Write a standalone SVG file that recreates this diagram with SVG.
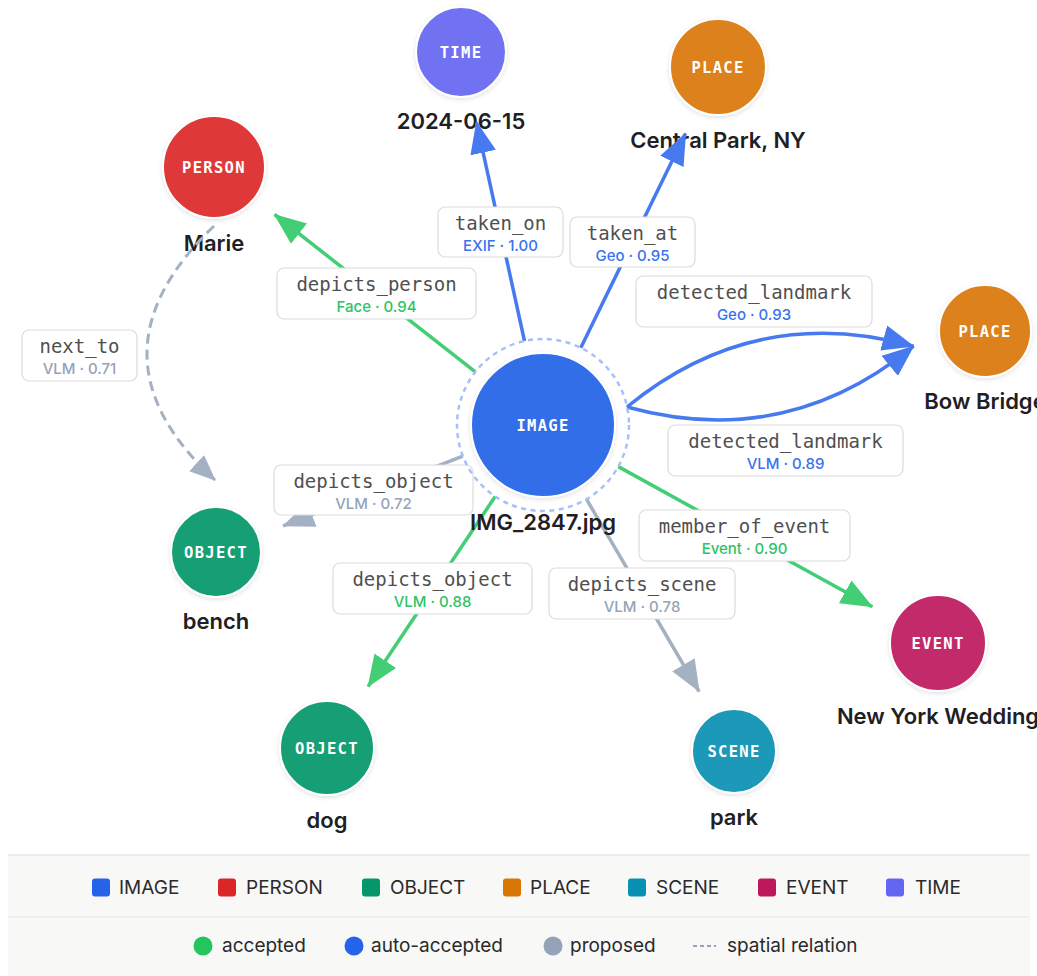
<svg xmlns="http://www.w3.org/2000/svg" width="1037" height="976" viewBox="0 0 1037 976">
<style>
.nt{font-family:"DejaVu Sans Mono","Liberation Mono",monospace;font-weight:bold;font-size:15.5px;fill:#ffffff;letter-spacing:1.3px;text-anchor:middle}
.nn{font-family:Inter,"Liberation Sans",sans-serif;font-weight:600;font-size:22px;fill:#1f2023;text-anchor:middle}
.lb{fill:#ffffff;stroke:#dcdcdc;stroke-width:1.2}
.lt{font-family:"DejaVu Sans Mono","Liberation Mono",monospace;font-size:19px;fill:#505050;text-anchor:middle}
.ls{font-family:Inter,"Liberation Sans",sans-serif;font-weight:500;font-size:15px;text-anchor:middle}
.sb{fill:#3a72ee}.sg{fill:#2fc364}.sp{fill:#94a3b8}
.e{fill:none;stroke-width:3.5}
.eb{stroke:#467aee}.eg{stroke:#43ce76}.ep{stroke:#a4b1c2}
.lg{font-family:Inter,"Liberation Sans",sans-serif;font-size:19px;fill:#2a2a2a}
</style>
<defs>
<filter id="sh" x="-20%" y="-20%" width="140%" height="140%">
<feDropShadow dx="0" dy="1.5" stdDeviation="2" flood-color="#000000" flood-opacity="0.12"/>
</filter>
<marker id="ab" viewBox="0 0 32 26" refX="31" refY="13" markerWidth="32" markerHeight="26" markerUnits="userSpaceOnUse" orient="auto"><path d="M0,0 L32,13 L0,26 z" fill="#467aee"/></marker>
<marker id="ag" viewBox="0 0 32 26" refX="31" refY="13" markerWidth="32" markerHeight="26" markerUnits="userSpaceOnUse" orient="auto"><path d="M0,0 L32,13 L0,26 z" fill="#43ce76"/></marker>
<marker id="ap" viewBox="0 0 32 26" refX="31" refY="13" markerWidth="32" markerHeight="26" markerUnits="userSpaceOnUse" orient="auto"><path d="M0,0 L32,13 L0,26 z" fill="#a4b1c2"/></marker>
<marker id="apd" viewBox="0 0 26 22" refX="25" refY="11" markerWidth="26" markerHeight="22" markerUnits="userSpaceOnUse" orient="auto"><path d="M0,0 L26,11 L0,22 z" fill="#a4b1c2"/></marker>
</defs>
<rect width="1037" height="976" fill="#ffffff"/>

<!-- nodes -->
<g id="node-time">
<circle cx="461" cy="52" r="45" fill="#6f72f2" stroke="#ffffff" stroke-width="2" filter="url(#sh)"/>
<text class="nt" x="461" y="57.5">TIME</text>
<text class="nn" x="461" y="129">2024-06-15</text>
</g>
<g id="node-central-park">
<circle cx="718" cy="67" r="48" fill="#dc811a" stroke="#ffffff" stroke-width="2" filter="url(#sh)"/>
<text class="nt" x="718" y="72.5">PLACE</text>
<text class="nn" x="718" y="148">Central Park, NY</text>
</g>
<g id="node-marie">
<circle cx="214" cy="167" r="51" fill="#de3737" stroke="#ffffff" stroke-width="2" filter="url(#sh)"/>
<text class="nt" x="214" y="172.5">PERSON</text>
<text class="nn" x="214" y="251">Marie</text>
</g>
<g id="node-bow-bridge">
<circle cx="985" cy="331" r="46" fill="#dc811a" stroke="#ffffff" stroke-width="2" filter="url(#sh)"/>
<text class="nt" x="985" y="336.5">PLACE</text>
<text class="nn" x="985" y="409">Bow Bridge</text>
</g>
<g id="node-event">
<circle cx="938" cy="643" r="48" fill="#c32a6a" stroke="#ffffff" stroke-width="2" filter="url(#sh)"/>
<text class="nt" x="938" y="648.5">EVENT</text>
<text class="nn" x="938" y="724">New York Wedding</text>
</g>
<g id="node-scene">
<circle cx="734" cy="751" r="42" fill="#1b99b8" stroke="#ffffff" stroke-width="2" filter="url(#sh)"/>
<text class="nt" x="734" y="756.5">SCENE</text>
<text class="nn" x="734" y="825">park</text>
</g>
<g id="node-dog">
<circle cx="327" cy="748" r="47" fill="#199e75" stroke="#ffffff" stroke-width="2" filter="url(#sh)"/>
<text class="nt" x="327" y="753.5">OBJECT</text>
<text class="nn" x="327" y="828">dog</text>
</g>
<g id="node-bench">
<circle cx="216" cy="552" r="45" fill="#199e75" stroke="#ffffff" stroke-width="2" filter="url(#sh)"/>
<text class="nt" x="216" y="557.5">OBJECT</text>
<text class="nn" x="216" y="629">bench</text>
</g>

<!-- connectors -->
<g id="connectors">
<path class="e eb" d="M524.5,341 L476.5,122.3" marker-end="url(#ab)"/>
<path class="e eb" d="M580.8,347.7 L685.5,133.5" marker-end="url(#ab)"/>
<path class="e eg" d="M475.3,371.9 L274.6,214.5" marker-end="url(#ag)"/>
<path class="e eb" d="M627,407 Q754.6,302.3 913.6,346.2" marker-end="url(#ab)"/>
<path class="e eb" d="M627,407 Q786.2,450.9 913.6,346.2" marker-end="url(#ab)"/>
<path class="e eg" d="M618.3,466.6 L872.3,606.8" marker-end="url(#ag)"/>
<path class="e ep" d="M586.5,499.2 L699.1,691.5" marker-end="url(#ap)"/>
<path class="e eg" d="M495.2,496.5 L368.1,686.5" marker-end="url(#ag)"/>
<path class="e ep" d="M462.8,456.1 L283.1,525.9" marker-end="url(#ap)"/>
<path class="ep" fill="none" stroke-width="3" stroke-dasharray="10 6" d="M214,226 Q79.5,355.5 215,480" marker-end="url(#apd)"/>

<g id="label-taken-on">
<rect class="lb" x="438" y="207" width="125" height="50" rx="7"/>
<text class="lt" x="500.5" y="229.5">taken_on</text>
<text class="ls sb" x="500.5" y="250.5">EXIF · 1.00</text>
</g>
<g id="label-taken-at">
<rect class="lb" x="570" y="217" width="125" height="50" rx="7"/>
<text class="lt" x="632.5" y="239.5">taken_at</text>
<text class="ls sb" x="632.5" y="260.5">Geo · 0.95</text>
</g>
<g id="label-depicts-person">
<rect class="lb" x="277" y="268" width="199" height="51" rx="7"/>
<text class="lt" x="376.5" y="290.5">depicts_person</text>
<text class="ls sg" x="376.5" y="311.5">Face · 0.94</text>
</g>
<g id="label-landmark-geo">
<rect class="lb" x="636" y="276" width="236" height="51" rx="7"/>
<text class="lt" x="754" y="298.5">detected_landmark</text>
<text class="ls sb" x="754" y="319.5">Geo · 0.93</text>
</g>
<g id="label-landmark-vlm">
<rect class="lb" x="668" y="425" width="235" height="51" rx="7"/>
<text class="lt" x="785.5" y="447.5">detected_landmark</text>
<text class="ls sb" x="785.5" y="468.5">VLM · 0.89</text>
</g>
<g id="label-member-of-event">
<rect class="lb" x="639" y="510" width="211" height="51" rx="7"/>
<text class="lt" x="744.5" y="532.5">member_of_event</text>
<text class="ls sg" x="744.5" y="553.5">Event · 0.90</text>
</g>
<g id="label-depicts-scene">
<rect class="lb" x="549" y="568" width="186" height="51" rx="7"/>
<text class="lt" x="642" y="590.5">depicts_scene</text>
<text class="ls sp" x="642" y="611.5">VLM · 0.78</text>
</g>
<g id="label-depicts-object-dog">
<rect class="lb" x="333" y="563" width="199" height="51" rx="7"/>
<text class="lt" x="432.5" y="585.5">depicts_object</text>
<text class="ls sg" x="432.5" y="606.5">VLM · 0.88</text>
</g>
<g id="label-depicts-object-bench">
<rect class="lb" x="274" y="465" width="199" height="50" rx="7"/>
<text class="lt" x="373.5" y="487.5">depicts_object</text>
<text class="ls sp" x="373.5" y="508.5">VLM · 0.72</text>
</g>
<g id="label-next-to">
<rect class="lb" x="22" y="330" width="115" height="51" rx="7"/>
<text class="lt" x="79.5" y="352.5">next_to</text>
<text class="ls sp" x="79.5" y="373.5">VLM · 0.71</text>
</g>
</g>

<g id="node-image">
<circle cx="543" cy="425" r="86" fill="none" stroke="#a8c0f8" stroke-width="2.5" stroke-dasharray="5 4.5"/>
<circle cx="543" cy="425" r="72" fill="#326ee8" stroke="#ffffff" stroke-width="2" filter="url(#sh)"/>
<text class="nt" x="543" y="430.5">IMAGE</text>
<text class="nn" x="543" y="530">IMG_2847.jpg</text>
</g>

<!-- legend -->
<g id="legend">
<rect x="8" y="855" width="1022" height="121" fill="#f8f8f7"/>
<line x1="8" y1="855" x2="1030" y2="855" stroke="#e6e6e6" stroke-width="1.5"/>
<line x1="8" y1="917" x2="1030" y2="917" stroke="#e6e6e6" stroke-width="1.2"/>
<rect x="92" y="878.5" width="18" height="18" rx="3" fill="#2563eb"/>
<text class="lg" x="119" y="894">IMAGE</text>
<rect x="218" y="878.5" width="18" height="18" rx="3" fill="#dc2626"/>
<text class="lg" x="246" y="894">PERSON</text>
<rect x="362" y="878.5" width="18" height="18" rx="3" fill="#059669"/>
<text class="lg" x="390" y="894">OBJECT</text>
<rect x="503" y="878.5" width="18" height="18" rx="3" fill="#d97706"/>
<text class="lg" x="530" y="894">PLACE</text>
<rect x="628" y="878.5" width="18" height="18" rx="3" fill="#0891b2"/>
<text class="lg" x="656" y="894">SCENE</text>
<rect x="758" y="878.5" width="18" height="18" rx="3" fill="#be185d"/>
<text class="lg" x="786" y="894">EVENT</text>
<rect x="886" y="878.5" width="18" height="18" rx="3" fill="#6366f1"/>
<text class="lg" x="915" y="894">TIME</text>
<circle cx="203" cy="946" r="9.5" fill="#22c55e"/>
<text class="lg" x="222" y="952">accepted</text>
<circle cx="354" cy="946" r="9.5" fill="#2563eb"/>
<text class="lg" x="371" y="952">auto-accepted</text>
<circle cx="553" cy="946" r="9.5" fill="#94a3b8"/>
<text class="lg" x="570" y="952">proposed</text>
<line x1="693" y1="946" x2="716" y2="946" stroke="#94a3b8" stroke-width="2" stroke-dasharray="4 3"/>
<text class="lg" x="727" y="952">spatial relation</text>
</g>
</svg>
